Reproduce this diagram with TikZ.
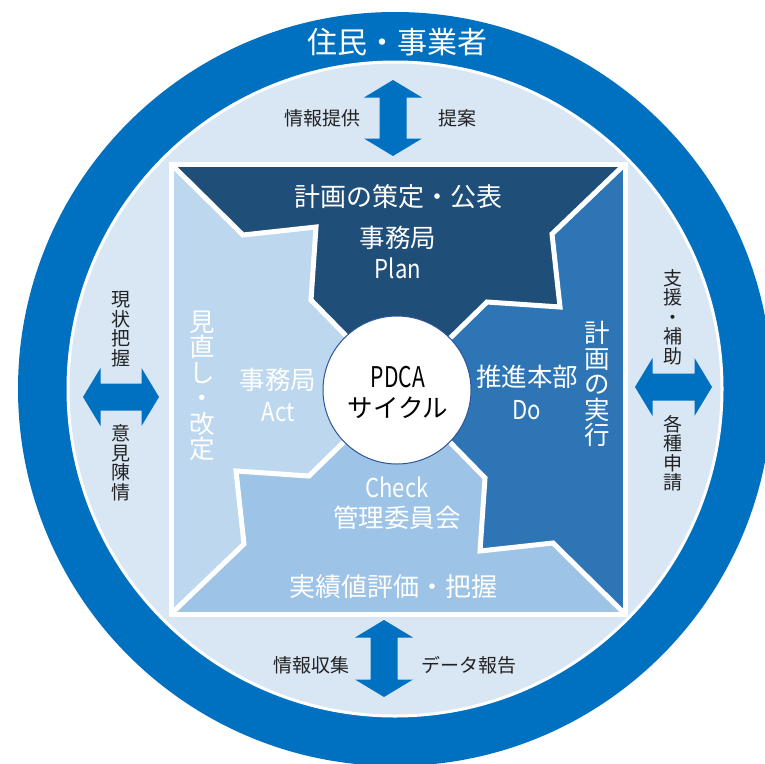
\documentclass[tikz,border=0pt]{standalone}
\usepackage{fontspec}
\setmainfont{Noto Sans CJK JP}
\newfontfamily\latn[FakeStretch=0.85]{Noto Sans CJK JP}
\newfontfamily\latnc[FakeStretch=0.74]{Noto Sans CJK JP}
\definecolor{ringblue}{HTML}{0070C0}
\definecolor{lightband}{HTML}{D9E7F5}
\definecolor{plancol}{HTML}{1F4E79}
\definecolor{docol}{HTML}{2E75B6}
\definecolor{checkcol}{HTML}{9DC3E6}
\definecolor{actcol}{HTML}{BDD7EE}
\definecolor{circedge}{HTML}{2F5597}
\definecolor{labelgray}{HTML}{222222}
\newcommand{\dblarrowV}[3]{%
  \fill[ringblue] (#1,#2) -- ++(29,17.5) -- ++(-15.5,0) -- ({#1+13.5},{#3-17.5}) -- ++(15.5,0)
    -- (#1,#3) -- ++(-29,-17.5) -- ++(15.5,0) -- ({#1-13.5},{#2+17.5}) -- ++(-15.5,0) -- cycle;}
\newcommand{\dblarrowH}[3]{%
  \fill[ringblue] (#2,#1) -- ++(17.5,-29) -- ++(0,15.5) -- ({#3-17.5},{#1-13.5}) -- ++(0,-15.5)
    -- (#3,#1) -- ++(-17.5,29) -- ++(0,-15.5) -- ({#2+17.5},{#1+13.5}) -- ++(0,15.5) -- cycle;}
\tikzset{
  lbl/.style={inner sep=0pt, text=labelgray, align=center, font=\fontsize{19}{19.5}\selectfont},
  wt/.style={inner sep=0pt, text=white, align=center, font=\fontsize{25.5}{25.5}\selectfont},
  wtl/.style={inner sep=0pt, text=white, align=center, font=\fontsize{26}{26}\selectfont\latn},
  sep/.style={white, line width=5pt, line join=miter},
}
\begin{document}
\begin{tikzpicture}[x=1pt,y=-1pt]
\useasboundingbox (0,0) rectangle (765,763);
\fill[white] (0,0) rectangle (765,763);
\begin{scope}
\clip (0,0) rectangle (765,763);
% outer ring
\fill[ringblue] (395,389) circle (377);
\draw[white, line width=3pt, fill=lightband] (395,389) circle (327);
\end{scope}
% square corners and zigzag points
\coordinate (O) at (398,389);
\coordinate (TL) at (171,164);
\coordinate (TR) at (625,164);
\coordinate (BR) at (625,614);
\coordinate (BL) at (171,614);
\coordinate (TLA) at (243,235); \coordinate (TLB) at (316,227); \coordinate (TLC) at (311,300);
\coordinate (TRA) at (552,234); \coordinate (TRB) at (560,307); \coordinate (TRC) at (487,302);
\coordinate (BRA) at (553,543); \coordinate (BRB) at (480,551); \coordinate (BRC) at (485,478);
\coordinate (BLA) at (244,544); \coordinate (BLB) at (236,471); \coordinate (BLC) at (309,476);
% pieces
\fill[plancol] (TL) -- (TLA) -- (TLB) -- (TLC) -- (O) -- (TRC) -- (TRB) -- (TRA) -- (TR) -- cycle;
\fill[docol] (TR) -- (TRA) -- (TRB) -- (TRC) -- (O) -- (BRC) -- (BRB) -- (BRA) -- (BR) -- cycle;
\fill[checkcol] (BR) -- (BRA) -- (BRB) -- (BRC) -- (O) -- (BLC) -- (BLB) -- (BLA) -- (BL) -- cycle;
\fill[actcol] (BL) -- (BLA) -- (BLB) -- (BLC) -- (O) -- (TLC) -- (TLB) -- (TLA) -- (TL) -- cycle;
% separators
\draw[sep] (TL) -- (TLA) -- (TLB) -- (TLC) -- (O);
\draw[sep] (TR) -- (TRA) -- (TRB) -- (TRC) -- (O);
\draw[sep] (BR) -- (BRA) -- (BRB) -- (BRC) -- (O);
\draw[sep] (BL) -- (BLA) -- (BLB) -- (BLC) -- (O);
\draw[white, line width=5pt] (TL) rectangle (BR);
% centre circle
\node[circle, fill=white, draw=circedge, line width=1pt, minimum size=148pt, inner sep=0pt] (pdca) at (397,390) {};
\node[inner sep=0pt, font=\fontsize{28.5}{28.5}\selectfont\latnc] (pdcat) at (398,377) {PDCA};
\node[inner sep=0pt, font=\fontsize{25.5}{25.5}\selectfont] (cycle) at (398,408) {サイクル};
% arrows
\dblarrowV{393}{80}{156}
\dblarrowV{384}{620}{697}
\dblarrowH{397}{83}{159}
\dblarrowH{387}{635}{712}
% ring title
\node[inner sep=0pt, text=white, font=\fontsize{30}{30}\selectfont] (title) at (397,42) {住民・事業者};
% arrow labels
\node[lbl] (l1) at (322,118) {情報提供};
\node[lbl] (l2) at (457,118) {提案};
\node[lbl] (l3) at (311,665) {情報収集};
\node[lbl] (l4) at (469,665) {データ報告};
\node[lbl] (l5) at (121,329) {現\\状\\把\\握};
\node[lbl] (l6) at (121,463) {意\\見\\陳\\情};
\node[lbl] (l7) at (673,317) {支\\援\\・\\補\\助};
\node[lbl] (l8) at (673,453) {各\\種\\申\\請};
% piece texts
\node[wt, font=\fontsize{26}{26}\selectfont] (plan1) at (398,197) {計画の策定・公表};
\node[wt] (plan2) at (398,238) {事務局};
\node[wtl] (plan3) at (398,268) {Plan};
\node[wt] (act1) at (278,380) {事務局};
\node[wtl] (act2) at (278,412) {Act};
\node[wt] (act3) at (202,386) {見\\直\\し\\・\\改\\定};
\node[wt] (do1) at (527,377) {推進本部};
\node[wtl] (do2) at (527,410) {Do};
\node[wt] (do3) at (597,384) {計\\画\\の\\実\\行};
\node[wtl] (chk1) at (397,487) {Check};
\node[wt] (chk2) at (397,518) {管理委員会};
\node[wt, font=\fontsize{26}{26}\selectfont] (chk3) at (393,587) {実績値評価・把握};
\end{tikzpicture}
\end{document}
